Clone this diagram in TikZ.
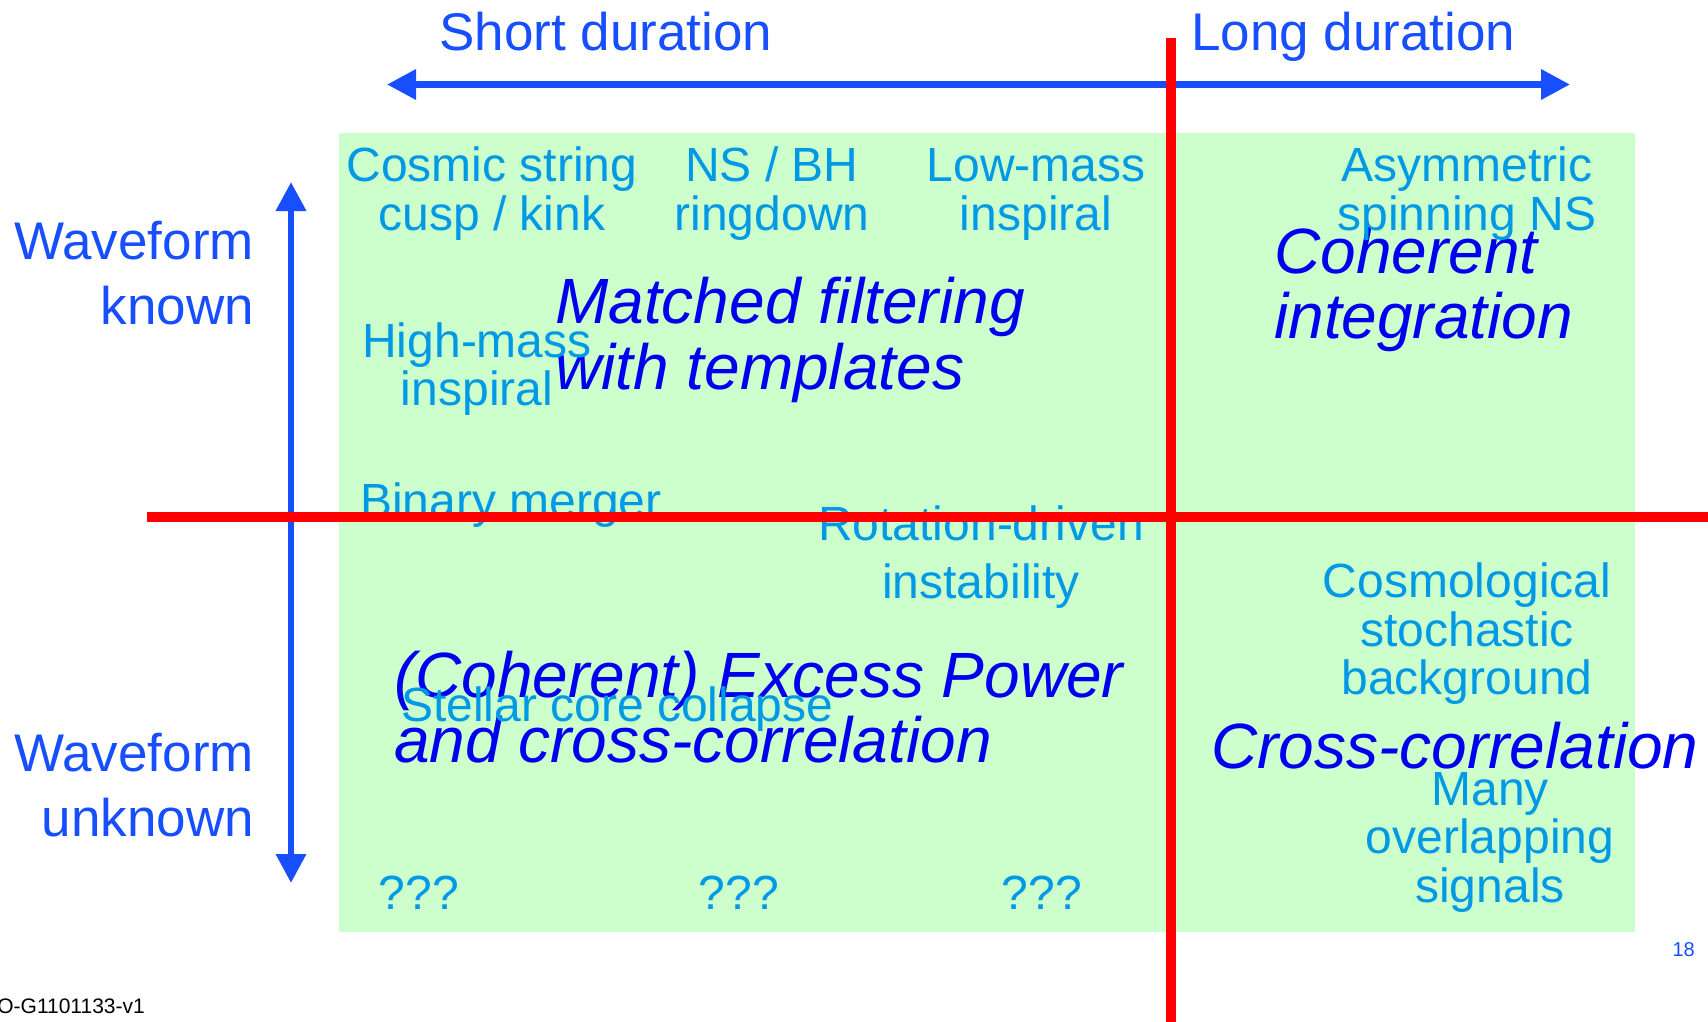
\documentclass[tikz,border=0pt]{standalone}
\usepackage{fontspec}
\setmainfont{Liberation Sans}
\usetikzlibrary{arrows.meta}
\definecolor{ablue}{RGB}{23,79,255}
\definecolor{lblue}{RGB}{0,153,230}
\definecolor{mblue}{RGB}{0,0,240}
\definecolor{gfill}{RGB}{204,255,204}
\definecolor{rline}{RGB}{255,0,0}
\tikzset{
  lbl/.style={text=lblue, font=\fontsize{48}{50}\selectfont, inner sep=0pt, anchor=base},
  meth/.style={text=mblue, font=\fontsize{64}{66}\selectfont\itshape, inner sep=0pt, anchor=base west},
  axl/.style={text=ablue, font=\fontsize{53}{55}\selectfont, inner sep=0pt},
  axarr/.style={draw=ablue, line width=6.5pt},
  tri/.tip={Triangle[length=29pt,width=29pt]},
  redline/.style={draw=rline, line width=10pt, line cap=butt},
}
\begin{document}
\begin{tikzpicture}[x=1pt,y=-1pt]
\useasboundingbox (0,0) rectangle (1708,1022);
\fill[white] (0,0) rectangle (1708,1022);
% green panel
\fill[gfill] (339,133) rectangle (1635,932);

% axis labels
\node[axl, anchor=base west] (sd) at (439,51) {Short duration};
\node[axl, anchor=base west] (ld) at (1191,51) {Long duration};
\node[axl, anchor=base east] (wk1) at (254,259) {Waveform};
\node[axl, anchor=base east] (wk2) at (254,324) {known};
\node[axl, anchor=base east] (wu1) at (254,771) {Waveform};
\node[axl, anchor=base east] (wu2) at (254,836) {unknown};

% axis arrows
\coordinate (hl) at (387,84.5);
\coordinate (hr) at (1570,84.5);
\draw[axarr, {tri}-{tri}] (hl) -- (hr);
\coordinate (vt) at (291,182);
\coordinate (vb) at (291,883);
\draw[axarr, {tri}-{tri}] (vt) -- (vb);

% method labels
\node[meth] (mf1) at (555,323.5) {Matched filtering};
\node[meth] (mf2) at (555,389) {with templates};
\node[meth] (ci1) at (1274,273) {Coherent};
\node[meth] (ci2) at (1274,338) {integration};
\node[meth] (ep1) at (394,697) {(Coherent) Excess Power};
\node[meth] (ep2) at (394,762) {and cross-correlation};
\node[meth] (cc) at (1211,768) {Cross-correlation};

% source labels
\node[lbl] (cs1) at (492,182) {Cosmic string};
\node[lbl] (cs2) at (492,230) {cusp / kink};
\node[lbl] (ns1) at (772,182) {NS / BH};
\node[lbl] (ns2) at (772,230) {ringdown};
\node[lbl] (lm1) at (1036,182) {Low-mass};
\node[lbl] (lm2) at (1036,230) {inspiral};
\node[lbl] (as1) at (1467,182) {Asymmetric};
\node[lbl] (as2) at (1467,230) {spinning NS};
\node[lbl] (hm1) at (477,357) {High-mass};
\node[lbl] (hm2) at (477,405) {inspiral};
\node[lbl, anchor=base west] (bm) at (360,517) {Binary merger};
\node[lbl] (rd1) at (981,540) {Rotation-driven};
\node[lbl] (rd2) at (981,598) {instability};
\node[lbl] (co1) at (1467,597) {Cosmological};
\node[lbl] (co2) at (1467,646) {stochastic};
\node[lbl] (co3) at (1467,694) {background};
\node[lbl, anchor=base west] (sc) at (401,721) {Stellar core collapse};
\node[lbl] (mo1) at (1490,805) {Many};
\node[lbl] (mo2) at (1490,853) {overlapping};
\node[lbl] (mo3) at (1490,902) {signals};
\node[lbl] (q1) at (419,909) {???};
\node[lbl] (q2) at (739,909) {???};
\node[lbl] (q3) at (1042,909) {???};

% red dividing lines
\coordinate (rvt) at (1171,38);
\coordinate (rvb) at (1171,1030);
\draw[redline] (rvt) -- (rvb);
\coordinate (rhl) at (147,517);
\coordinate (rhr) at (1715,517);
\draw[redline] (rhl) -- (rhr);

% footer
\node[text=ablue, font=\fontsize{20}{22}\selectfont, inner sep=0pt, anchor=base east] (pg) at (1695,956) {18};
\begin{scope}
\clip (0,0) rectangle (1708,1022);
\node[text=black, font=\fontsize{21}{23}\selectfont, inner sep=0pt, anchor=base east] (ft) at (145,1013) {LIGO-G1101133-v1};
\end{scope}
\end{tikzpicture}
\end{document}
